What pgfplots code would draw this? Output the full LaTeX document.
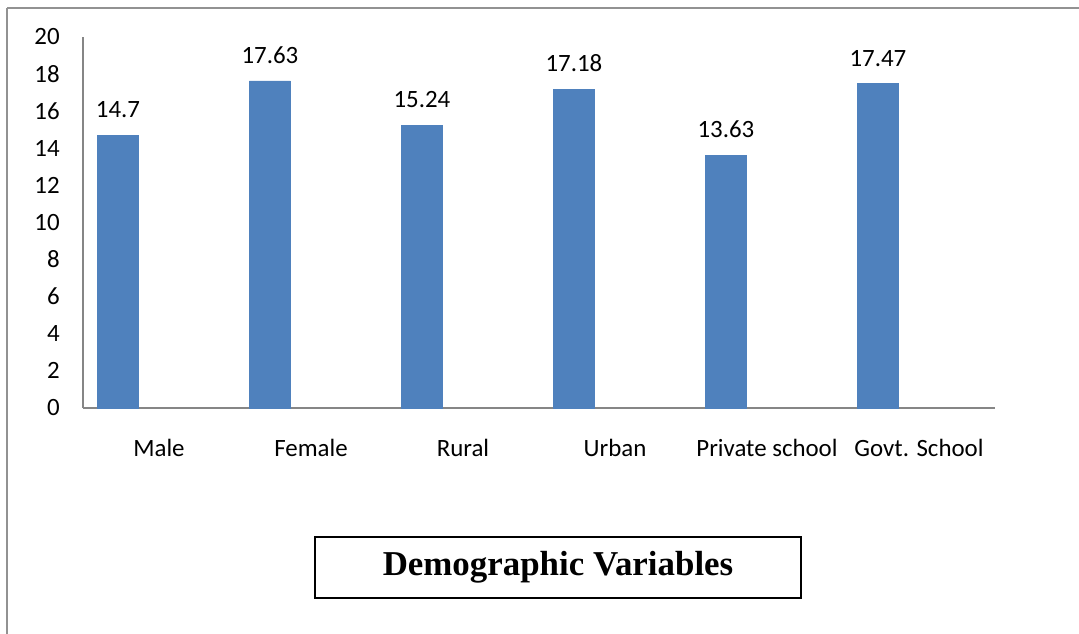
\documentclass[border=0pt]{standalone}
\usepackage{fontspec}
\setmainfont{Carlito}
\newfontfamily\tnr{Liberation Serif}
\usepackage{pgfplots}
\pgfplotsset{compat=1.18}
\definecolor{barblue}{HTML}{4F81BD}
\definecolor{axgray}{HTML}{868686}
\begin{document}
\begin{tikzpicture}
\useasboundingbox (0,0) rectangle (485.55pt,285.3pt);
\draw[color=axgray!90,line width=0.9pt] (3.15pt,281.47pt) -- (485.55pt,281.47pt);
\draw[color=axgray!90,line width=0.9pt] (3.15pt,281.47pt) -- (3.15pt,0pt);
\begin{axis}[
  at={(37.35pt,101.7pt)}, anchor=south west,
  width=410.4pt, height=166.95pt, scale only axis,
  xmin=-0.5, xmax=5.5, ymin=0, ymax=20,
  axis lines*=left,
  axis line style={color=axgray, line width=0.8pt},
  xtick={0,1,2,3,4,5},
  xticklabels={Male,Female,Rural,Urban,Private school,Govt. School},
  ytick={0,2,...,20},
  major tick length=0pt,
  /pgf/number format/assume math mode=true,
  tick label style={font=\fontsize{11.2}{13}\selectfont, text=black},
  yticklabel style={inner sep=0pt, xshift=-10.3pt},
  xticklabel style={inner sep=0pt, yshift=-14pt, anchor=north},
  clip=false,
]
\addplot[ybar, bar width=0.27, fill=barblue, draw=barblue,
  point meta=explicit symbolic,
  nodes near coords,
  nodes near coords style={font=\fontsize{11.2}{13}\selectfont, text=black, anchor=south, inner sep=0pt, yshift=7.6pt}]
coordinates {
(-0.27,14.7) [14.7]
(0.73,17.63) [17.63]
(1.73,15.24) [15.24]
(2.73,17.18) [17.18]
(3.73,13.63) [13.63]
(4.73,17.47) [17.47]
};
\end{axis}
\node[draw=black, line width=0.9pt, minimum width=218.7pt, minimum height=27.45pt, inner sep=0pt, font=\tnr\bfseries\fontsize{15.7}{18}\selectfont] at (251.1pt,29.9pt) {Demographic Variables};
\end{tikzpicture}
\end{document}
